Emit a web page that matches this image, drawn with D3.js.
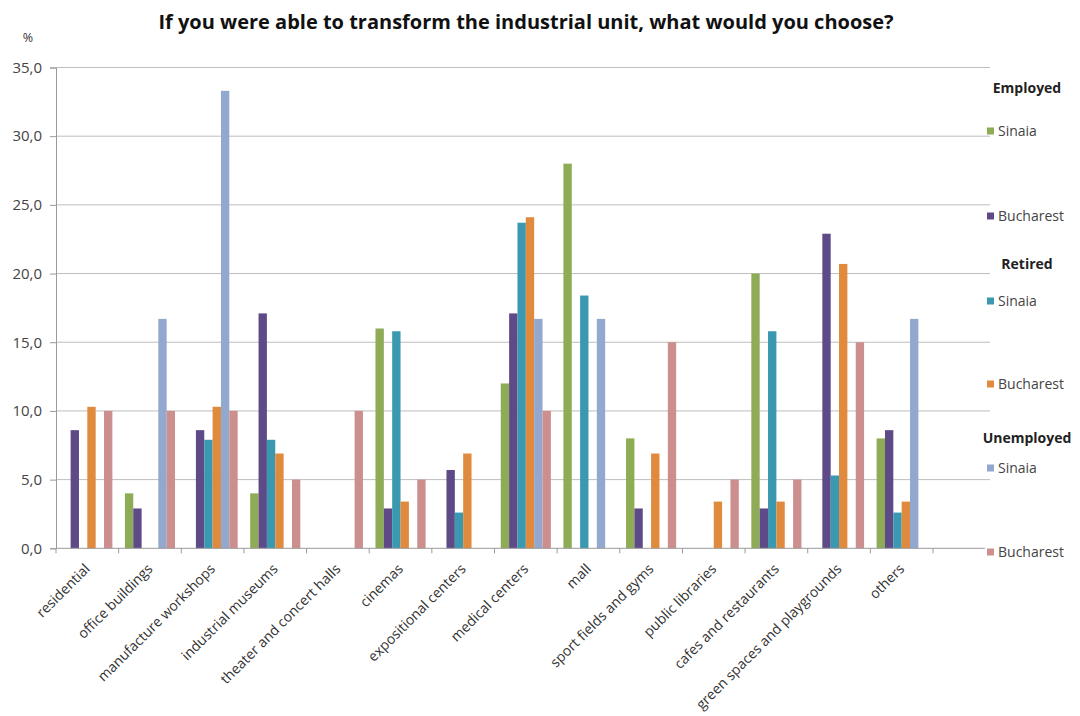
<!DOCTYPE html>
<html>
<head>
<meta charset="utf-8">
<script src="https://cdn.jsdelivr.net/npm/d3@7"></script>
<style>
  html, body { margin: 0; padding: 0; background: #fff; }
  svg { display: block; }
</style>
</head>
<body>
<svg id="chart" width="1080" height="716"></svg>
<script>
const categories = ["residential", "office buildings", "manufacture workshops", "industrial museums",
  "theater and concert halls", "cinemas", "expositional centers", "medical centers", "mall",
  "sport fields and gyms", "public libraries", "cafes and restaurants",
  "green spaces and playgrounds", "others"];

const employedSinaia      = [0, 4.0, 0, 4.0, 0, 16.0, 0, 12.0, 28.0, 8.0, 0, 20.0, 0, 8.0];
const employedBucharest   = [8.6, 2.9, 8.6, 17.1, 0, 2.9, 5.7, 17.1, 0, 2.9, 0, 2.9, 22.9, 8.6];
const retiredSinaia       = [0, 0, 7.9, 7.9, 0, 15.8, 2.6, 23.7, 18.4, 0, 0, 15.8, 5.3, 2.6];
const retiredBucharest    = [10.3, 0, 10.3, 6.9, 0, 3.4, 6.9, 24.1, 0, 6.9, 3.4, 3.4, 20.7, 3.4];
const unemployedSinaia    = [0, 16.7, 33.3, 0, 0, 0, 0, 16.7, 16.7, 0, 0, 0, 0, 16.7];
const unemployedBucharest = [10.0, 10.0, 10.0, 5.0, 10.0, 5.0, 0, 10.0, 0, 15.0, 5.0, 5.0, 15.0, 0];

const seriesNames = ["Employed Sinaia", "Employed Bucharest", "Retired Sinaia", "Retired Bucharest",
  "Unemployed Sinaia", "Unemployed Bucharest"];
const groupNames = ["Employed", "Retired", "Unemployed"];
const cityNames = ["Sinaia", "Bucharest"];
const yTicks = [0, 5, 10, 15, 20, 25, 30, 35];

const title = "If you were able to transform the industrial unit, what would you choose?";
const yUnit = "%";

const seriesValues = [employedSinaia, employedBucharest, retiredSinaia, retiredBucharest,
  unemployedSinaia, unemployedBucharest];
const colors = ["#8eab55", "#5e4a87", "#3a98b0", "#df8a3c", "#93a8ce", "#cd8f8e"];

(function () {
const svg = d3.select("#chart");
const FONT = "'Open Sans', 'DejaVu Sans', sans-serif";

const mLeft = 56, mRight = 933, mTop = 67.5, mBottom = 548.3, gridRight = 990;

const x0 = d3.scaleBand().domain(categories).range([mLeft, mRight])
  .paddingInner(0.2).paddingOuter(0.1);
const x1 = d3.scaleBand().domain(seriesNames).range([0, x0.bandwidth()]);
const y = d3.scaleLinear().domain([0, 35]).range([mBottom, mTop]);

// title
svg.append("text").attr("x", 526).attr("y", 29).attr("text-anchor", "middle")
  .attr("font-family", FONT).attr("font-weight", "bold").attr("font-size", 20)
  .attr("fill", "#111").text(title);

// y unit
svg.append("text").attr("x", 28).attr("y", 42).attr("text-anchor", "middle")
  .attr("font-family", FONT).attr("font-size", 12.5).attr("fill", "#333").text(yUnit);

// gridlines
svg.append("g").selectAll("line").data(yTicks.filter(d => d > 0)).join("line")
  .attr("x1", mLeft).attr("x2", gridRight)
  .attr("y1", d => y(d)).attr("y2", d => y(d))
  .attr("stroke", "#bdbdbd").attr("stroke-width", 1);

// y axis
const yAxis = d3.axisLeft(y).tickValues(yTicks).tickSize(6).tickPadding(8)
  .tickFormat(d => d3.format(".1f")(d).replace(".", ","));
const gy = svg.append("g").attr("transform", `translate(${mLeft},0)`).call(yAxis);
gy.select(".domain").attr("stroke", "#9a9a9a");
gy.selectAll(".tick line").attr("stroke", "#9a9a9a");
gy.selectAll(".tick text").attr("font-family", FONT).attr("font-size", 15).attr("fill", "#444");

// bars
const groups = svg.append("g").selectAll("g").data(categories).join("g")
  .attr("transform", d => `translate(${x0(d)},0)`);
groups.selectAll("rect")
  .data((c, i) => seriesNames.map((s, k) => ({ s, k, v: seriesValues[k][i] })))
  .join("rect")
  .attr("x", d => x1(d.s))
  .attr("width", x1.bandwidth())
  .attr("y", d => y(d.v))
  .attr("height", d => y(0) - y(d.v))
  .attr("fill", d => colors[d.k]);

// x axis line
svg.append("line").attr("x1", mLeft).attr("x2", 985).attr("y1", mBottom).attr("y2", mBottom)
  .attr("stroke", "#9a9a9a");
// category boundary ticks
const step = x0.step();
svg.append("g").selectAll("line").data(d3.range(categories.length + 1)).join("line")
  .attr("x1", i => mLeft + i * step).attr("x2", i => mLeft + i * step)
  .attr("y1", mBottom).attr("y2", mBottom + 5).attr("stroke", "#9a9a9a");

// category labels
svg.append("g").selectAll("text").data(categories).join("text")
  .attr("transform", d => `translate(${x0(d) + x0.bandwidth() / 2},${mBottom + 18}) rotate(-45)`)
  .attr("text-anchor", "end").attr("dy", "0.35em")
  .attr("font-family", FONT).attr("font-size", 14).attr("fill", "#333")
  .text(d => d);

// legend
const legendHeaders = [
  { text: groupNames[0], y: 88 },
  { text: groupNames[1], y: 264 },
  { text: groupNames[2], y: 438 }
];
const legendItems = [
  { k: 0, y: 131 }, { k: 1, y: 216 }, { k: 2, y: 301 },
  { k: 3, y: 384 }, { k: 4, y: 468 }, { k: 5, y: 552 }
];
const lg = svg.append("g");
lg.selectAll("text.h").data(legendHeaders).join("text").attr("class", "h")
  .attr("x", 1027).attr("y", d => d.y).attr("dy", "0.35em").attr("text-anchor", "middle")
  .attr("font-family", FONT).attr("font-weight", "bold").attr("font-size", 14)
  .attr("fill", "#222").text(d => d.text);
lg.selectAll("rect").data(legendItems).join("rect")
  .attr("x", 987).attr("y", d => d.y - 3.5).attr("width", 7).attr("height", 7)
  .attr("fill", d => colors[d.k]);
lg.selectAll("text.i").data(legendItems).join("text").attr("class", "i")
  .attr("x", 998).attr("y", d => d.y).attr("dy", "0.35em")
  .attr("font-family", FONT).attr("font-size", 14).attr("fill", "#444")
  .text(d => cityNames[d.k % 2]);
})();
</script>
</body>
</html>
